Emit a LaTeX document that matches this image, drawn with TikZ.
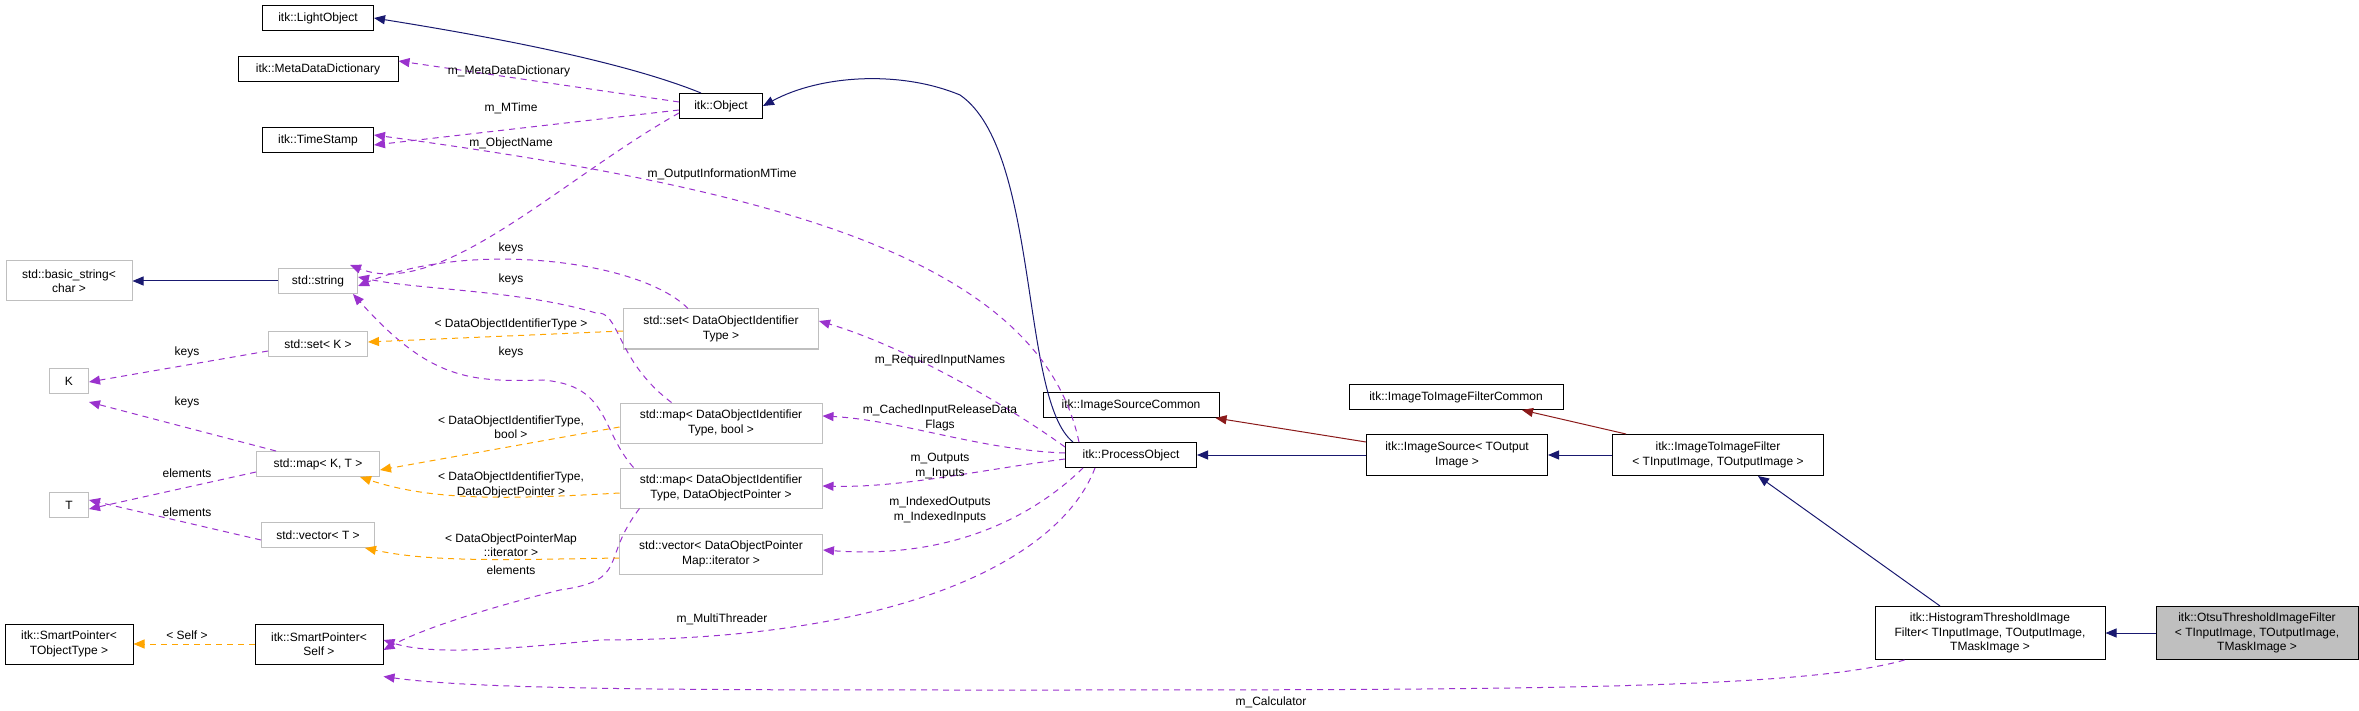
\documentclass[tikz,border=0pt]{standalone}
\usepackage{fontspec}
\setmainfont{Liberation Sans}
\usetikzlibrary{arrows.meta}
\definecolor{inhc}{HTML}{191970}
\definecolor{redc}{HTML}{8B1A1A}
\definecolor{usec}{HTML}{9A32CD}
\definecolor{tplc}{HTML}{FFA500}
\definecolor{grayb}{HTML}{BFBFBF}
\begin{document}
\begin{tikzpicture}[x=1pt,y=-1pt,
  font=\fontsize{12}{14.5}\selectfont,
  box/.style={draw=black,line width=1pt,fill=white,align=center,inner sep=2pt,minimum height=25pt},
  gbox/.style={box,draw=grayb},
  tip/.style={-{Triangle[length=11pt,width=9pt]}},
  inh/.style={tip,draw=inhc,line width=1pt},
  red/.style={tip,draw=redc,line width=1pt},
  use/.style={tip,draw=usec,dash pattern=on 6pt off 5pt,line width=1pt},
  tpl/.style={tip,draw=tplc,dash pattern=on 6pt off 5pt,line width=1pt},
  lab/.style={align=center,inner sep=1pt}]
\useasboundingbox (0,0) rectangle (2359,711);
% nodes
\node[box,minimum width=111pt] (light) at (318,18) {itk::LightObject};
\node[box,minimum width=160pt] (mdd) at (318,69) {itk::MetaDataDictionary};
\node[box,minimum width=111pt] (ts) at (318,140) {itk::TimeStamp};
\node[box,minimum width=83pt] (obj) at (721,106) {itk::Object};
\node[gbox,minimum width=126pt,minimum height=40pt] (bstr) at (69,281) {std::basic\_string\textless\\char \textgreater};
\node[gbox,minimum width=79pt] (str) at (318,281) {std::string};
\node[gbox,minimum width=195pt,minimum height=40pt] (sdoit) at (721,329) {std::set\textless{} DataObjectIdentifier\\Type \textgreater};
\node[gbox,minimum width=99pt] (setk) at (318,344) {std::set\textless{} K \textgreater};
\node[gbox,minimum width=39pt] (K) at (69,381) {K};
\node[gbox,minimum width=123pt] (mapkt) at (318,464) {std::map\textless{} K, T \textgreater};
\node[gbox,minimum width=202pt,minimum height=40pt] (mbool) at (721,423) {std::map\textless{} DataObjectIdentifier\\Type, bool \textgreater};
\node[gbox,minimum width=202pt,minimum height=40pt] (mdop) at (721,488) {std::map\textless{} DataObjectIdentifier\\Type, DataObjectPointer \textgreater};
\node[gbox,minimum width=39pt] (T) at (69,505) {T};
\node[gbox,minimum width=113pt] (vect) at (318,535) {std::vector\textless{} T \textgreater};
\node[gbox,minimum width=203pt,minimum height=40pt] (vdop) at (721,554) {std::vector\textless{} DataObjectPointer\\Map::iterator \textgreater};
\node[box,minimum width=128pt,minimum height=40pt] (spo) at (69,644) {itk::SmartPointer\textless\\TObjectType \textgreater};
\node[box,minimum width=128pt,minimum height=40pt] (sps) at (319,644) {itk::SmartPointer\textless\\Self \textgreater};
\node[box,minimum width=176pt] (isc) at (1131,405) {itk::ImageSourceCommon};
\node[box,minimum width=131pt] (po) at (1131,455) {itk::ProcessObject};
\node[box,minimum width=181pt,minimum height=41pt] (is) at (1457,455) {itk::ImageSource\textless{} TOutput\\Image \textgreater};
\node[box,minimum width=214pt] (iifc) at (1456,397) {itk::ImageToImageFilterCommon};
\node[box,minimum width=211pt,minimum height=41pt] (iif) at (1718,455) {itk::ImageToImageFilter\\\textless{} TInputImage, TOutputImage \textgreater};
\node[box,minimum width=230pt,minimum height=53pt] (hist) at (1990,633) {itk::HistogramThresholdImage\\Filter\textless{} TInputImage, TOutputImage,\\TMaskImage \textgreater};
\node[box,fill=grayb,minimum width=202pt,minimum height=53pt] (otsu) at (2257,633) {itk::OtsuThresholdImageFilter\\\textless{} TInputImage, TOutputImage,\\TMaskImage \textgreater};
% inheritance
\draw[inh] (obj.north west) ++(22,0) .. controls (620,60) and (480,35) .. (light.east);
\draw[inh] (po.north west) ++(8,0) .. controls (1020,400) and (1040,150) .. (960,95) .. controls (900,70) and (820,75) .. (obj.east);
\draw[inh] (str.west) -- (bstr.east);
\draw[inh] (is.west) -- (po.east);
\draw[inh] (iif.west) -- (is.west -| is.east);
\draw[inh] (hist.north) ++(-50,0) -- ([xshift=40pt]iif.south);
\draw[inh] (otsu.west) -- (hist.east);
\draw[red] (is.north west) ++(0,8) -- ([xshift=-4pt]isc.south east);
\draw[red] (iif.north west) ++(14,0) -- ([xshift=66pt]iifc.south);
% usage (purple)
\draw[use] (obj.west) ++(0,-4) -- ([yshift=8pt]mdd.east);
\node[lab] at (509,71) {m\_MetaDataDictionary};
\draw[use] (obj.west) ++(0,4) -- ([yshift=-5pt]ts.east);
\node[lab] at (511,108) {m\_MTime};
\draw[use] (po.north west) ++(14,0) .. controls (1040,260) and (780,190) .. ([yshift=5pt]ts.east);
\node[lab] at (722,174) {m\_OutputInformationMTime};
\draw[use] (obj.south west) ++(0,-6) .. controls (560,180) and (440,300) .. ([xshift=-8pt,yshift=3pt]str.north east);
\node[lab] at (511,143) {m\_ObjectName};
\draw[use] (sdoit.north) ++(-33,0) .. controls (640,260) and (470,240) .. ([yshift=-5pt]str.east);
\node[lab] at (511,248) {keys};
\draw[use] (mbool.north west) ++(52,0) .. controls (615,360) and (620,310) .. (596,313) .. controls (520,290) and (420,290) .. ([yshift=4pt]str.east);
\node[lab] at (511,279) {keys};
\draw[use] (mdop.north west) ++(14,0) .. controls (600,430) and (610,385) .. (542,380) .. controls (470,382) and (430,380) .. ([xshift=-5pt]str.south east);
\node[lab] at (511,352) {keys};
\draw[use] (mdop.south west) ++(20,0) .. controls (600,560) and (630,580) .. (560,590) .. controls (480,610) and (420,630) .. ([yshift=-6pt]sps.east);
\node[lab] at (511,570) {elements};
\draw[use] (setk.west) ++(0,7) -- ([yshift=-1pt]K.east);
\node[lab] at (187,352) {keys};
\draw[use] (mapkt.north west) ++(20,0) -- ([yshift=-8pt]K.south east);
\node[lab] at (187,402) {keys};
\draw[use] (mapkt.west) ++(0,8) -- ([yshift=-4pt]T.east);
\node[lab] at (187,473) {elements};
\draw[use] (vect.west) ++(0,5) -- ([yshift=5pt]T.east);
\node[lab] at (187,512) {elements};
\draw[use] (po.west) ++(0,-8) .. controls (1000,400) and (900,345) .. ([yshift=8pt]sdoit.east);
\node[lab] at (940,360) {m\_RequiredInputNames};
\draw[use] (po.west) ++(0,-2) .. controls (980,450) and (900,420) .. ([yshift=7pt]mbool.east);
\node[lab] at (940,418) {m\_CachedInputReleaseData\\Flags};
\draw[use] (po.west) ++(0,4) .. controls (980,470) and (900,488) .. ([yshift=2pt]mdop.east);
\node[lab] at (940,466) {m\_Outputs\\m\_Inputs};
\draw[use] (po.south west) ++(18,0) .. controls (1040,510) and (960,560) .. ([yshift=4pt]vdop.east);
\node[lab] at (940,510) {m\_IndexedOutputs\\m\_IndexedInputs};
\draw[use] (po.south west) ++(30,0) .. controls (1060,560) and (900,640) .. (600,640) .. controls (500,650) and (430,655) .. ([yshift=4pt]sps.east);
\node[lab] at (722,619) {m\_MultiThreader};
\draw[use] (hist.south west) ++(30,0) .. controls (1800,690) and (1500,690) .. (1000,690) .. controls (700,690) and (480,690) .. ([yshift=-12pt]sps.south east);
\node[lab] at (1271,702) {m\_Calculator};
% template (orange)
\draw[tpl] (sdoit.west) ++(0,2) -- ([yshift=2pt]setk.east);
\node[lab] at (511,324) {\textless{} DataObjectIdentifierType \textgreater};
\draw[tpl] (mbool.west) ++(0,4) -- ([yshift=-6pt]mapkt.east);
\node[lab] at (511,427) {\textless{} DataObjectIdentifierType,\\bool \textgreater};
\draw[tpl] (mdop.west) ++(0,5) .. controls (500,500) and (430,500) .. ([xshift=-20pt]mapkt.south east);
\node[lab] at (511,485) {\textless{} DataObjectIdentifierType,\\DataObjectPointer \textgreater};
\draw[tpl] (vdop.west) ++(0,4) .. controls (500,560) and (430,562) .. ([xshift=-10pt]vect.south east);
\node[lab] at (511,545) {\textless{} DataObjectPointerMap\\::iterator \textgreater};
\draw[tpl] (sps.west) -- (spo.east);
\node[lab] at (187,635) {\textless{} Self \textgreater};
\end{tikzpicture}
\end{document}
